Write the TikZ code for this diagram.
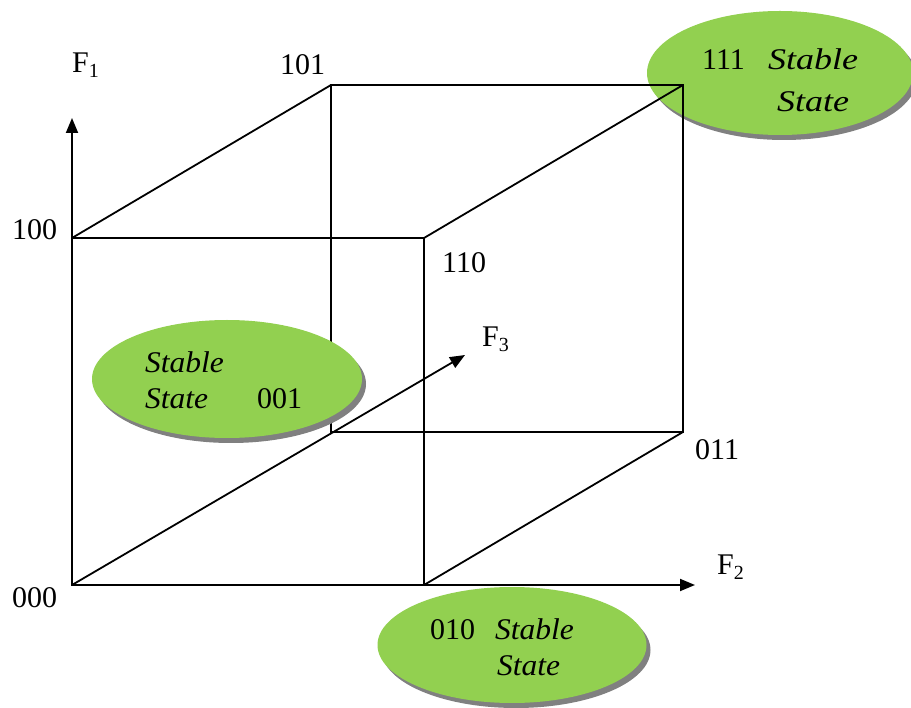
\documentclass[tikz,border=0pt]{standalone}
\usepackage{fontspec}
\setmainfont{Liberation Serif}
\usetikzlibrary{arrows.meta,shapes.geometric,shadows}
\definecolor{stategreen}{HTML}{92D050}
% axis name with a lowered index
\newcommand{\axisname}[1]{F\raisebox{-5pt}{\fontsize{20}{20}\selectfont #1}}
\begin{document}
\begin{tikzpicture}[x=1pt,y=-1pt,
  edge/.style={line width=1.8pt},
  axis/.style={line width=1.8pt,-{Triangle[length=15pt,width=12pt]}},
  vlabel/.style={font=\fontsize{30}{34}\selectfont, inner sep=0pt, anchor=base west},
  flabel/.style={font=\fontsize{30}{34}\selectfont, inner sep=0pt, anchor=base west},
  statebubble/.style={ellipse, fill=stategreen, draw=none, inner sep=0pt,
    drop shadow={shadow xshift=4pt, shadow yshift=-5pt, fill=black!50, opacity=1}},
  stxt/.style={font=\fontsize{30}{34}\selectfont, inner sep=0pt, anchor=base west},
  sital/.style={stxt, font=\fontsize{30}{34}\selectfont\itshape\addfontfeature{FakeStretch=1.05}},
  sitalwide/.style={stxt, font=\fontsize{30}{34}\selectfont\itshape\addfontfeature{FakeStretch=1.2}}
]
\useasboundingbox (0,0) rectangle (911,708);

% corners of the cube
\coordinate (c000) at (72,585);
\coordinate (c100) at (72,238);
\coordinate (c110) at (424,238);
\coordinate (c010) at (424,585);
\coordinate (c001) at (331,432);
\coordinate (c101) at (331,85);
\coordinate (c111) at (683,85);
\coordinate (c011) at (683,432);
% ends of the axes
\coordinate (f1end) at (72,118);
\coordinate (f2end) at (695,585);
\coordinate (f3end) at (465,355);

% stable state 111 sits behind the edges
\node[statebubble, minimum width=266pt, minimum height=124pt] (s111) at (780,73) {};
\node[stxt] (t111) at (702,70) {111};
\node[sitalwide] (t111a) at (768,70) {Stable};
\node[sitalwide] (t111b) at (777,112) {State};

% cube edges
\draw[edge] (c100) -- (c110) -- (c010) -- (c000) -- cycle;
\draw[edge] (c101) -- (c111) -- (c011) -- (c001) -- cycle;
\draw[edge] (c100) -- (c101);
\draw[edge] (c110) -- (c111);
\draw[edge] (c010) -- (c011);

% axes
\draw[axis] (c100) -- (f1end);
\draw[axis] (c010) -- (f2end);
\draw[axis] (c000) -- (f3end);

% vertex and axis labels
\node[flabel] (lf1) at (72,73) {\axisname{1}};
\node[flabel] (lf2) at (717,575) {\axisname{2}};
\node[flabel] (lf3) at (482,347) {\axisname{3}};
\node[vlabel] (l101) at (280,75) {101};
\node[vlabel] (l100) at (12,240) {100};
\node[vlabel] (l110) at (442,273) {110};
\node[vlabel] (l011) at (695,460) {011};
\node[vlabel] (l000) at (12,607) {000};

% stable state 001
\node[statebubble, minimum width=270pt, minimum height=118pt] (s001) at (227,379) {};
\node[sital] (t001a) at (145,373) {Stable};
\node[sital] (t001b) at (145,409) {State};
\node[stxt] (t001) at (257,409) {001};

% stable state 010
\node[statebubble, minimum width=269pt, minimum height=116pt] (s010) at (512,645) {};
\node[stxt] (t010) at (430,639) {010};
\node[sital] (t010a) at (495,639) {Stable};
\node[sital] (t010b) at (497,675) {State};
\end{tikzpicture}
\end{document}
